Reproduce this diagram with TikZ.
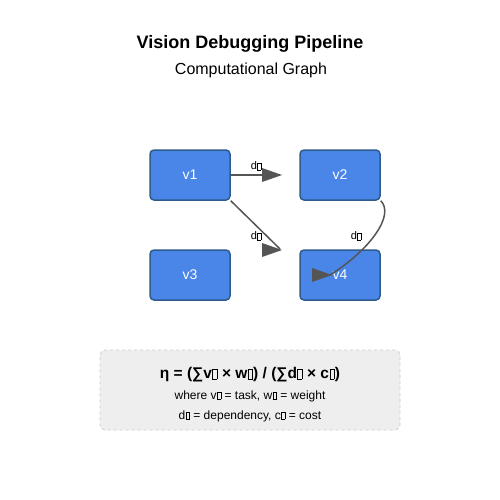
\documentclass[tikz,border=0pt]{standalone}
\usepackage{fontspec}
\setmainfont{Liberation Sans}
\usetikzlibrary{positioning}
\definecolor{boxfill}{HTML}{4A86E8}
\definecolor{boxline}{HTML}{2D5B8C}
\definecolor{edge}{HTML}{555555}
\definecolor{notefill}{HTML}{EEEEEE}
\definecolor{noteline}{HTML}{CCCCCC}
\newcommand\tofu{\kern0.03em{\fboxsep=0pt\fboxrule=0.35pt\fbox{\rule{0pt}{0.6em}\hspace{0.27em}}}\kern0.03em}
\tikzset{
  vbox/.style={draw=boxline, line width=1.5pt, fill=boxfill, rounded corners=4pt,
    minimum width=80pt, minimum height=50pt, inner sep=0pt, text=white, font=\fontsize{14}{16}\selectfont},
  conn/.style={draw=edge, line width=1.5pt},
  elabel/.style={font=\fontsize{11}{13}\selectfont, inner sep=0pt},
  tip/.style={fill=edge, draw=none}
}
\begin{document}
\begin{tikzpicture}[x=1pt,y=-1pt]
\useasboundingbox (0,0) rectangle (500,500);
\node[font=\bfseries\fontsize{18}{22}\selectfont] (title) at (250,44) {Vision Debugging Pipeline};
\node[font=\fontsize{16}{19}\selectfont] (sub) at (251,70) {Computational Graph};

\node[vbox] (v1) at (190,175) {v1};
\node[vbox] (v2) at (340,175) {v2};
\node[vbox] (v3) at (190,275) {v3};
\node[vbox] (v4) at (340,275) {v4};

\coordinate (e1) at (280,175);
\coordinate (e2) at (280,249);
\coordinate (e3) at (330,275);
\draw[conn] (v1.east) -- (e1);
\fill[tip] (262,168) -- (282,175) -- (262,182) -- cycle;
\draw[conn] (v1.south east) -- (e2);
\fill[tip] (262,243) -- (282,250) -- (262,257) -- cycle;
\draw[conn] (v2.south east) .. controls (395,215) and (370,250) .. (e3);
\fill[tip] (312,268) -- (332,275) -- (312,282) -- cycle;

\node[elabel] (l1) at (256,166) {d\tofu};
\node[elabel] (l2) at (256,236) {d\tofu};
\node[elabel] (l3) at (356,236) {d\tofu};

\node[draw=noteline, dashed, fill=notefill, rounded corners=5pt, line width=0.8pt,
  minimum width=300pt, minimum height=80pt] (note) at (250,390) {};
\node[font=\bfseries\fontsize{15.5}{19}\selectfont] (f) at (250,375) {η = (∑v\tofu{} × w\tofu) / (∑d\tofu{} × c\tofu)};
\node[font=\fontsize{12}{14}\selectfont] (w1) at (250,396) {where v\tofu{} = task, w\tofu{} = weight};
\node[font=\fontsize{12}{14}\selectfont] (w2) at (250,416) {d\tofu{} = dependency, c\tofu{} = cost};
\end{tikzpicture}
\end{document}
